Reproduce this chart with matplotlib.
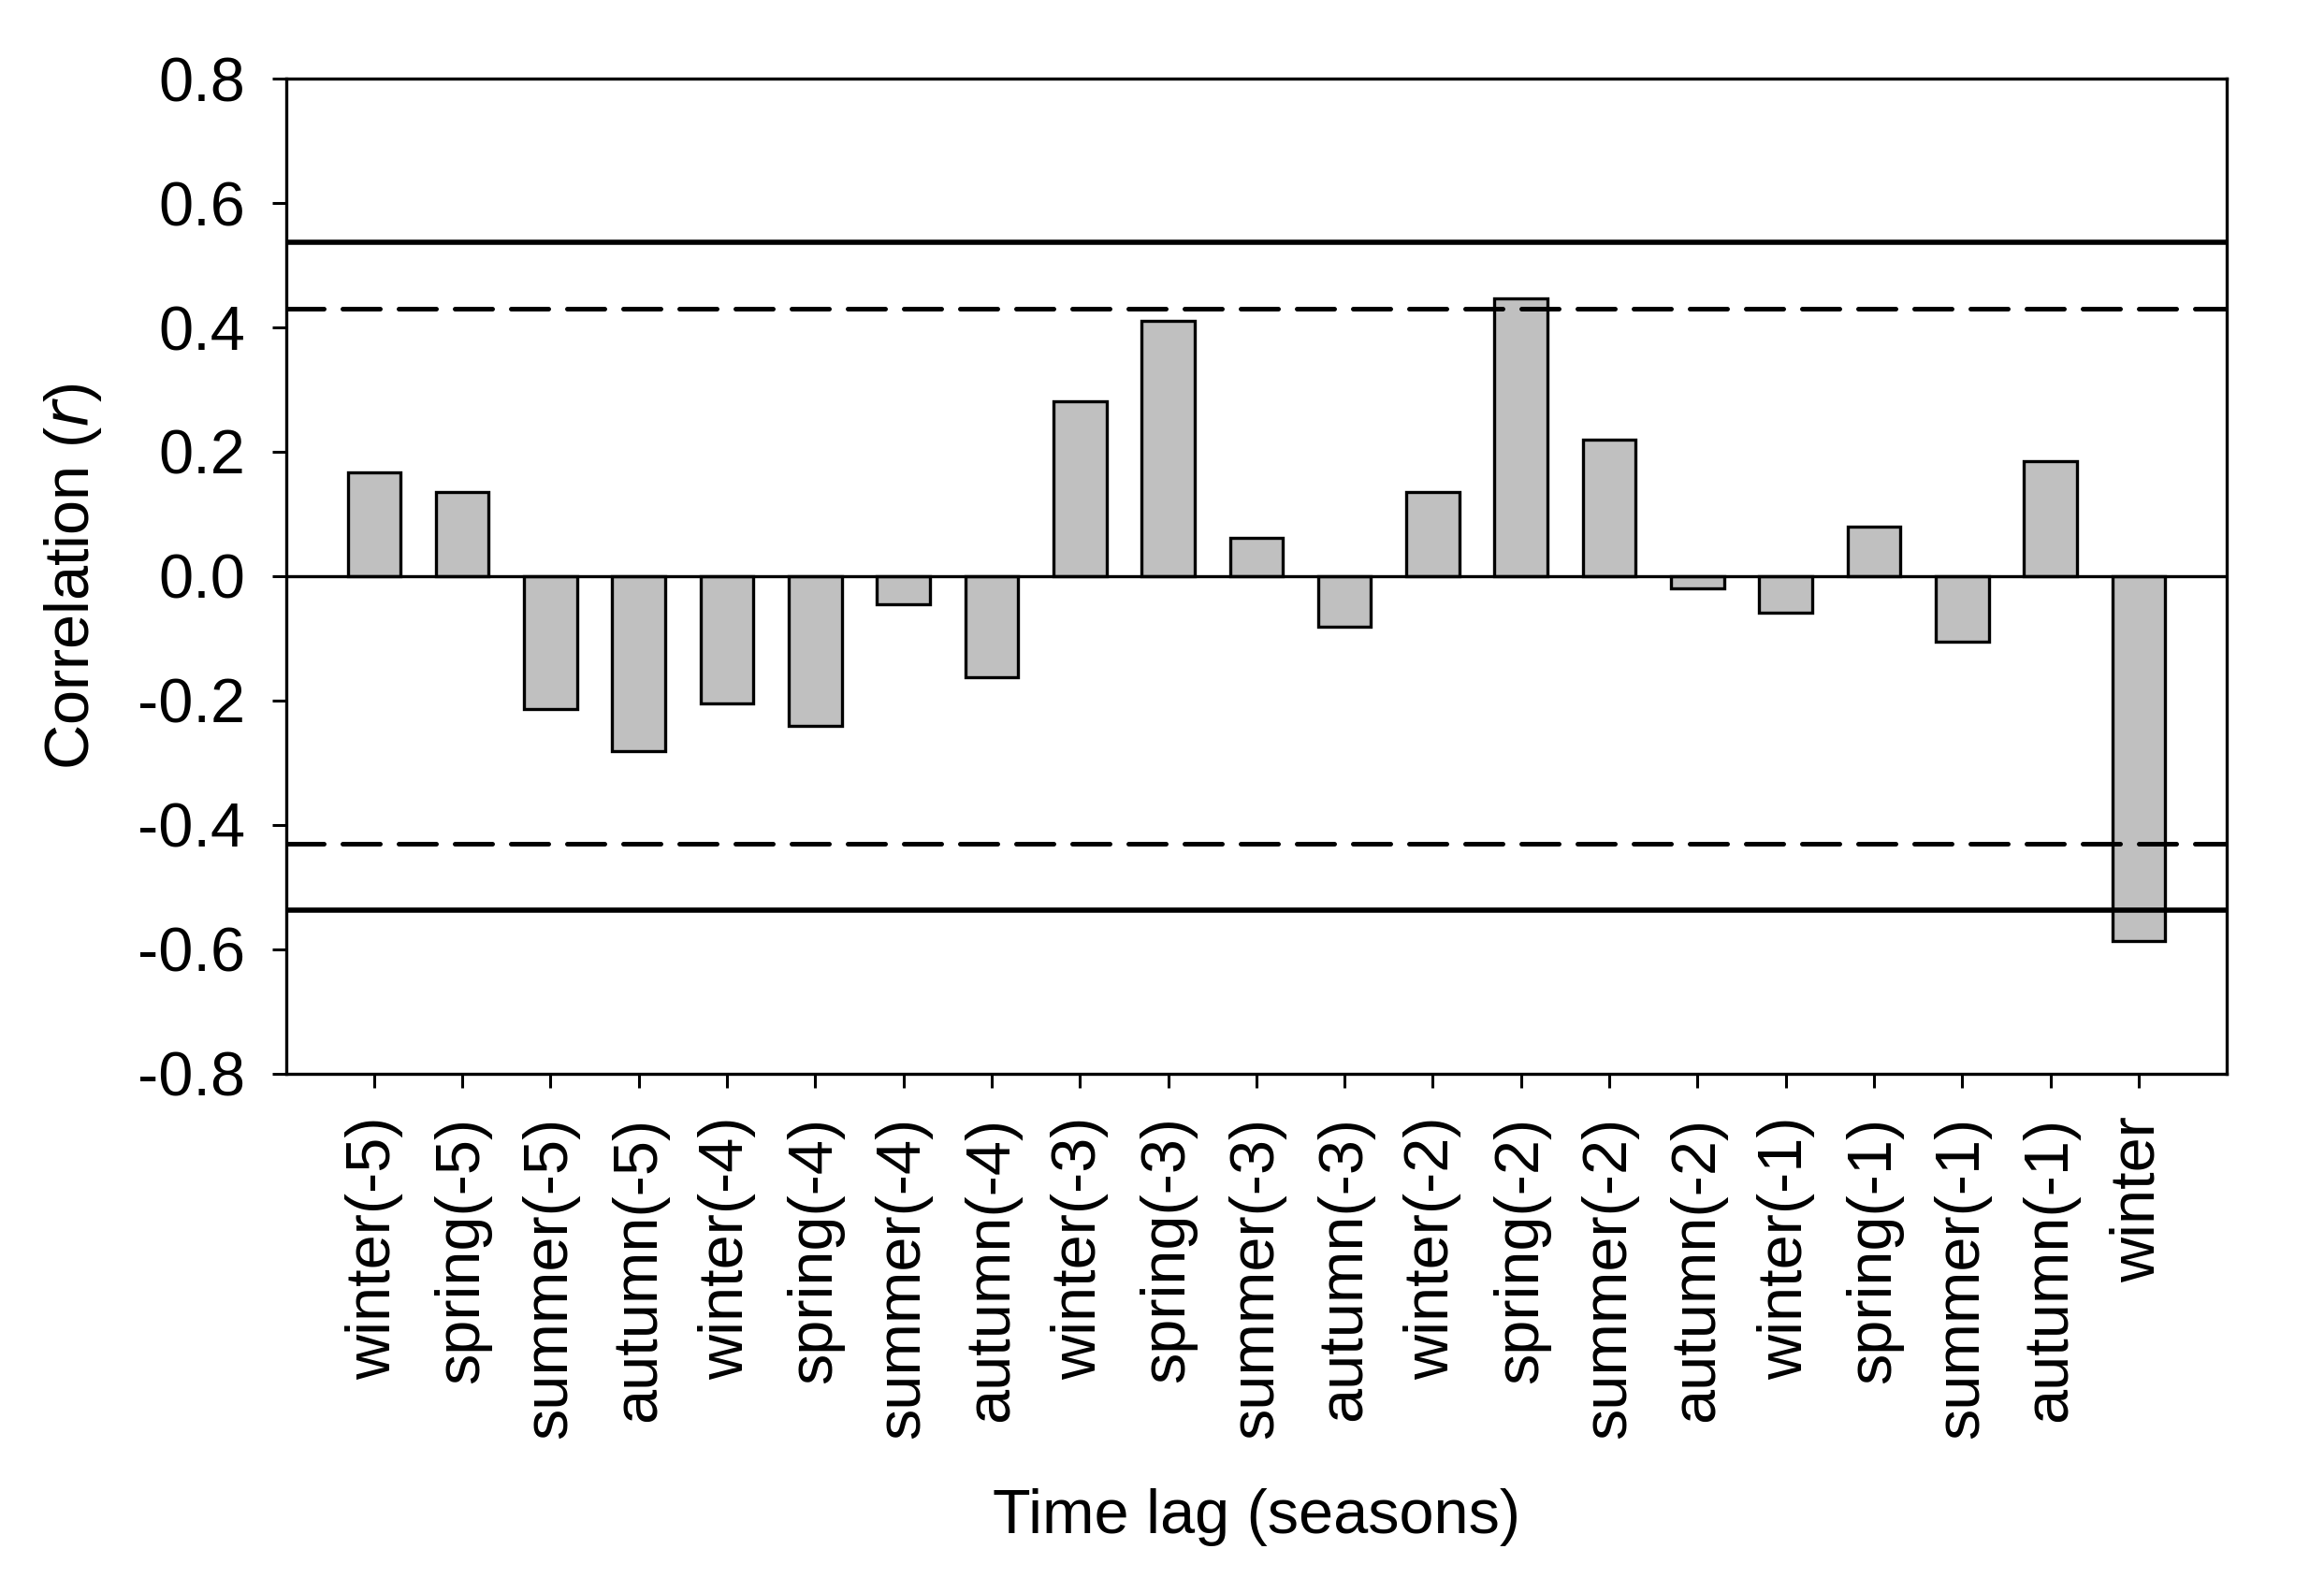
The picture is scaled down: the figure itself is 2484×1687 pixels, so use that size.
import matplotlib
matplotlib.use('Agg')
import matplotlib.pyplot as plt
import numpy as np

plt.rcParams['font.family'] = ['Liberation Sans', 'DejaVu Sans']

# lag labels and correlation values
labels = ['winter(-5)', 'spring(-5)', 'summer(-5)', 'autumn(-5)',
          'winter(-4)', 'spring(-4)', 'summer(-4)', 'autumn(-4)',
          'winter(-3)', 'spring(-3)', 'summer(-3)', 'autumn(-3)',
          'winter(-2)', 'spring(-2)', 'summer(-2)', 'autumn(-2)',
          'winter(-1)', 'spring(-1)', 'summer(-1)', 'autumn(-1)',
          'winter']
r = [0.167, 0.135, -0.213, -0.281,
     -0.205, -0.241, -0.046, -0.162,
     0.281, 0.411, 0.061, -0.081,
     0.135, 0.446, 0.220, -0.020,
     -0.059, 0.080, -0.106, 0.185,
     -0.587]
crit_solid = 0.537
crit_dash = 0.430
yticks = [-0.8, -0.6, -0.4, -0.2, 0.0, 0.2, 0.4, 0.6, 0.8]

fig = plt.figure(figsize=(24.84, 16.87), dpi=100)
ax = fig.add_axes([0.1230, 0.3197, 0.8352, 0.6304])

x = np.arange(len(labels))
ax.bar(x, r, width=0.6, color='#c0c0c0', edgecolor='black', linewidth=2.4, zorder=2)

ax.axhline(0, color='black', linewidth=2.4, zorder=3)
for s in (1, -1):
    ax.axhline(s * crit_solid, color='black', linewidth=4.0, zorder=4)
    ax.axhline(s * crit_dash, color='black', linewidth=3.6, zorder=4,
               linestyle=(0, (8.0, 4.0)), dash_capstyle='round')

ax.set_xlim(-1, 21)
ax.set_ylim(-0.8, 0.8)
ax.set_yticks(yticks)
ax.set_yticklabels(['%.1f' % v for v in yticks])
ax.set_xticks(x)
ax.set_xticklabels(labels, rotation=90)

for sp in ax.spines.values():
    sp.set_linewidth(2.4)
ax.tick_params(axis='both', direction='out', length=11, width=2.2, labelsize=48)
ax.tick_params(axis='y', pad=20)
ax.tick_params(axis='x', pad=22)

ax.set_ylabel('Correlation ($\\it{r}$)', fontsize=48, labelpad=26)
ax.set_xlabel('Time lag (seasons)', fontsize=48, labelpad=38)

fig.savefig('out.png', dpi=100)
